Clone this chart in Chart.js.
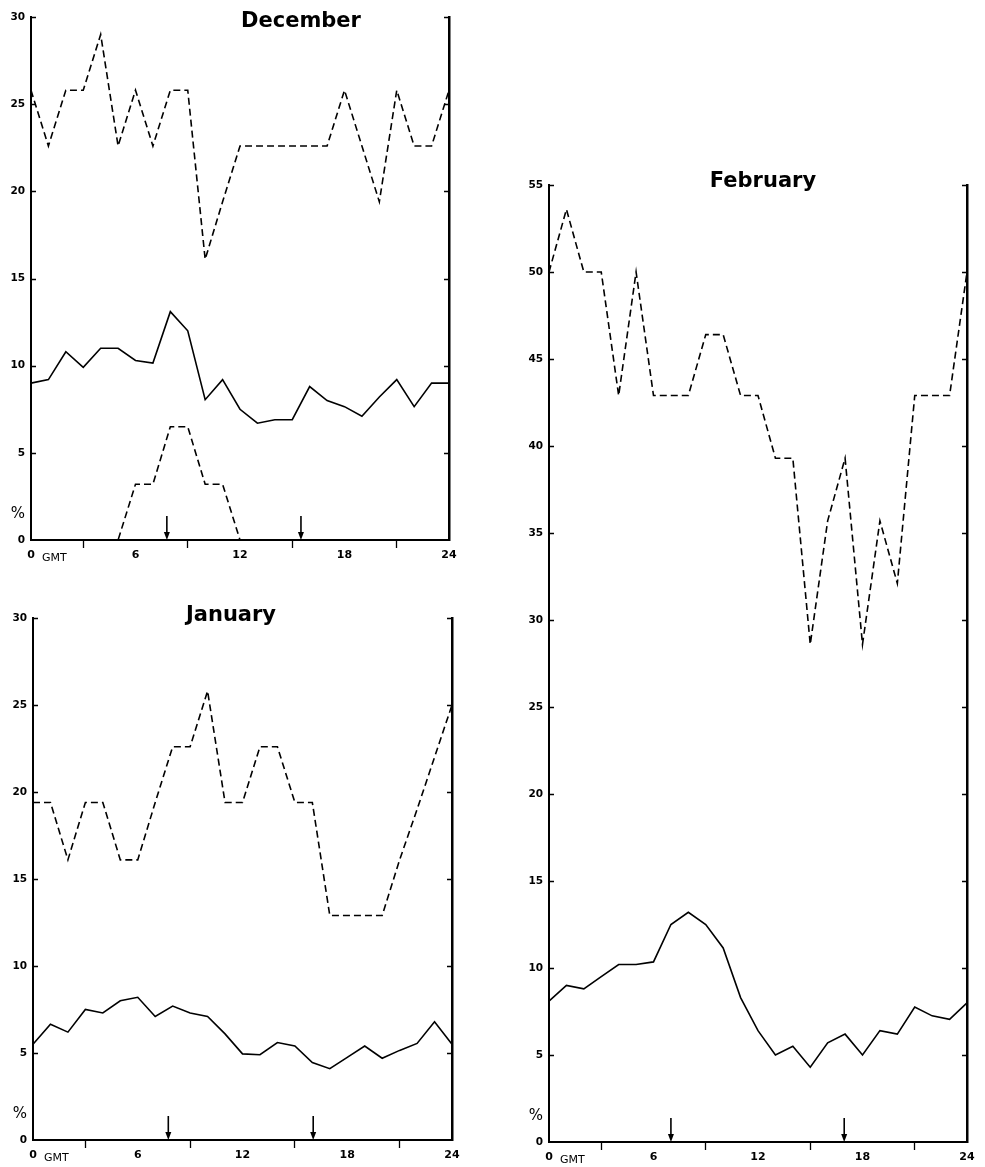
<!DOCTYPE html>
<html lang="en">
<head>
<meta charset="UTF-8">
<title>Hourly frequency by month (GMT)</title>
<script src="https://cdn.jsdelivr.net/npm/chart.js"></script>
<style>
    html, body { margin: 0; padding: 0; background: #fff; }
    #page { position: relative; width: 985px; height: 1167px; }
    #page canvas { position: absolute; left: 0; top: 0; }
</style>
</head>
<body>
<div id="page">
    <canvas id="decChart" width="985" height="1167"></canvas>
    <canvas id="janChart" width="985" height="1167"></canvas>
    <canvas id="febChart" width="985" height="1167"></canvas>
</div>
<script>
    // hours (GMT), one value per hour 0..24
    const hours = [0, 1, 2, 3, 4, 5, 6, 7, 8, 9, 10, 11, 12, 13, 14, 15, 16, 17, 18, 19, 20, 21, 22, 23, 24];

    // December
    const decUpper = [25.8, 22.6, 25.8, 25.8, 29.0, 22.6, 25.8, 22.6, 25.8, 25.8, 16.1, 19.4, 22.6,
                      22.6, 22.6, 22.6, 22.6, 22.6, 25.8, 22.6, 19.4, 25.8, 22.6, 22.6, 25.8];
    const decSolid = [9.0, 9.2, 10.8, 9.9, 11.0, 11.0, 10.3, 10.15, 13.1, 12.0, 8.05, 9.2, 7.5,
                      6.7, 6.9, 6.9, 8.8, 8.0, 7.65, 7.1, 8.2, 9.2, 7.65, 9.0, 9.0];
    const decLower = [0, 0, 0, 0, 0, 0, 3.2, 3.2, 6.5, 6.5, 3.2, 3.2, 0,
                      0, 0, 0, 0, 0, 0, 0, 0, 0, 0, 0, 0];
    const decArrows = [7.8, 15.5];

    // January
    const janUpper = [19.4, 19.4, 16.1, 19.4, 19.4, 16.1, 16.1, 19.4, 22.6, 22.6, 25.8, 19.4, 19.4,
                      22.6, 22.6, 19.4, 19.4, 12.9, 12.9, 12.9, 12.9, 16.1, 19.0, 22.0, 25.0];
    const janSolid = [5.5, 6.65, 6.2, 7.5, 7.3, 8.0, 8.2, 7.1, 7.7, 7.3, 7.1, 6.1, 4.95,
                      4.9, 5.6, 5.4, 4.45, 4.1, 4.75, 5.4, 4.7, 5.15, 5.55, 6.8, 5.5];
    const janArrows = [7.75, 16.05];

    // February
    const febUpper = [50.0, 53.6, 50.0, 50.0, 42.9, 50.0, 42.9, 42.9, 42.9, 46.4, 46.4, 42.9, 42.9,
                      39.3, 39.3, 28.6, 35.7, 39.3, 28.6, 35.7, 32.1, 42.9, 42.9, 42.9, 50.0];
    const febSolid = [8.1, 9.0, 8.8, 9.5, 10.2, 10.2, 10.35, 12.5, 13.2, 12.5, 11.15, 8.3, 6.4,
                      5.0, 5.5, 4.3, 5.7, 6.2, 5.0, 6.4, 6.2, 7.75, 7.25, 7.05, 8.0];
    const febArrows = [7.0, 16.95];

    const xTicks = [0, 3, 6, 9, 12, 15, 18, 21, 24];

    const FONT = 'DejaVu Sans';

    function pts(values) {
        return hours.map((h, i) => ({ x: h, y: values[i] }));
    }

    // titles, arrows, %, GMT and inward y ticks
    const decorPlugin = {
        id: 'decor',
        afterDraw(chart, args, opts) {
            const ctx = chart.ctx;
            const area = chart.chartArea;
            const x = chart.scales.x;
            const y = chart.scales.y;
            ctx.save();
            ctx.strokeStyle = '#000';
            ctx.fillStyle = '#000';

            // inward tick marks on both vertical axes
            ctx.lineWidth = 1.5;
            y.ticks.forEach(t => {
                if (t.value === 0) return;
                const py = Math.round(y.getPixelForValue(t.value)) + 0.5;
                ctx.beginPath();
                ctx.moveTo(area.left, py); ctx.lineTo(area.left + 5, py);
                ctx.moveTo(area.right - 5, py); ctx.lineTo(area.right, py);
                ctx.stroke();
            });

            // arrows standing on the time axis
            opts.arrows.forEach(h => {
                const px = x.getPixelForValue(h);
                ctx.lineWidth = 1.6;
                ctx.beginPath();
                ctx.moveTo(px, area.bottom - 24);
                ctx.lineTo(px, area.bottom - 5);
                ctx.stroke();
                ctx.beginPath();
                ctx.moveTo(px - 3, area.bottom - 8);
                ctx.lineTo(px + 3, area.bottom - 8);
                ctx.lineTo(px, area.bottom);
                ctx.closePath();
                ctx.fill();
            });

            // month title
            ctx.font = 'bold 21px "' + FONT + '"';
            ctx.textAlign = 'center';
            ctx.textBaseline = 'alphabetic';
            ctx.fillText(opts.title, area.left + opts.titleDx, area.top + opts.titleDy);

            // % above the zero label
            ctx.font = '15px "' + FONT + '"';
            ctx.textAlign = 'right';
            ctx.textBaseline = 'middle';
            ctx.fillText('%', area.left - 6, y.getPixelForValue(1.5));

            // GMT under the 0 of the time axis
            ctx.font = '11px "' + FONT + '"';
            ctx.textAlign = 'left';
            ctx.textBaseline = 'top';
            ctx.fillText('GMT', x.getPixelForValue(0) + 11, area.bottom + 13);
            ctx.restore();
        }
    };

    function makeChart(id, area, yMax, series, decor) {
        const datasets = series.map(s => ({
            data: pts(s.values),
            borderColor: '#000',
            borderWidth: 1.6,
            borderDash: s.dashed ? [7, 4] : [],
            pointRadius: 0,
            tension: 0,
            fill: false,
            clip: 4
        }));
        const yTicks = [];
        for (let v = 0; v <= yMax; v += 5) yTicks.push(v);

        return new Chart(document.getElementById(id), {
            type: 'line',
            data: { datasets },
            options: {
                responsive: false,
                animation: false,
                events: [],
                layout: {
                    padding: {
                        left: area.left - 30,
                        top: area.top,
                        right: 985 - area.right - 10,
                        bottom: 1167 - area.bottom - 24
                    }
                },
                plugins: {
                    legend: { display: false },
                    tooltip: { enabled: false },
                    decor: decor
                },
                scales: {
                    x: {
                        type: 'linear',
                        min: 0,
                        max: 24,
                        afterBuildTicks: s => { s.ticks = xTicks.map(v => ({ value: v })); },
                        afterFit: s => { s.height = 24; s.paddingLeft = 0; s.paddingRight = 0; },
                        ticks: {
                            callback: v => (v % 6 === 0 ? String(v) : ''),
                            color: '#000',
                            font: { family: FONT, size: 11, weight: 'bold' },
                            padding: 1,
                            maxRotation: 0,
                            autoSkip: false
                        },
                        grid: {
                            drawOnChartArea: false,
                            drawTicks: true,
                            tickLength: 8,
                            tickWidth: 1.3,
                            tickColor: c => (c.tick && c.tick.value % 6 === 0 ? 'rgba(0,0,0,0)' : '#000')
                        },
                        border: { display: true, color: '#000', width: 2 }
                    },
                    y: {
                        type: 'linear',
                        position: 'left',
                        min: 0,
                        max: yMax,
                        afterBuildTicks: s => { s.ticks = yTicks.map(v => ({ value: v })); },
                        afterFit: s => { s.width = 30; s.paddingTop = 0; s.paddingBottom = 0; },
                        ticks: {
                            color: '#000',
                            font: { family: FONT, size: 10.5, weight: 'bold' },
                            padding: 6
                        },
                        grid: { display: false, drawTicks: false },
                        border: { display: true, color: '#000', width: 2 }
                    },
                    y2: {
                        type: 'linear',
                        position: 'right',
                        min: 0,
                        max: yMax,
                        afterFit: s => { s.width = 10; s.paddingTop = 0; s.paddingBottom = 0; },
                        ticks: { display: false },
                        grid: { display: false, drawTicks: false },
                        border: { display: true, color: '#000', width: 2.5 }
                    }
                }
            },
            plugins: [decorPlugin]
        });
    }

    makeChart('decChart', { left: 31, top: 17, right: 449, bottom: 540 }, 30, [
        { values: decUpper, dashed: true },
        { values: decSolid, dashed: false },
        { values: decLower, dashed: true }
    ], { title: 'December', titleDx: 270, titleDy: 10, arrows: decArrows });

    makeChart('janChart', { left: 33, top: 618, right: 452, bottom: 1140 }, 30, [
        { values: janUpper, dashed: true },
        { values: janSolid, dashed: false }
    ], { title: 'January', titleDx: 198, titleDy: 3, arrows: janArrows });

    makeChart('febChart', { left: 549, top: 185, right: 967, bottom: 1142 }, 55, [
        { values: febUpper, dashed: true },
        { values: febSolid, dashed: false }
    ], { title: 'February', titleDx: 214, titleDy: 2, arrows: febArrows });
</script>
</body>
</html>
